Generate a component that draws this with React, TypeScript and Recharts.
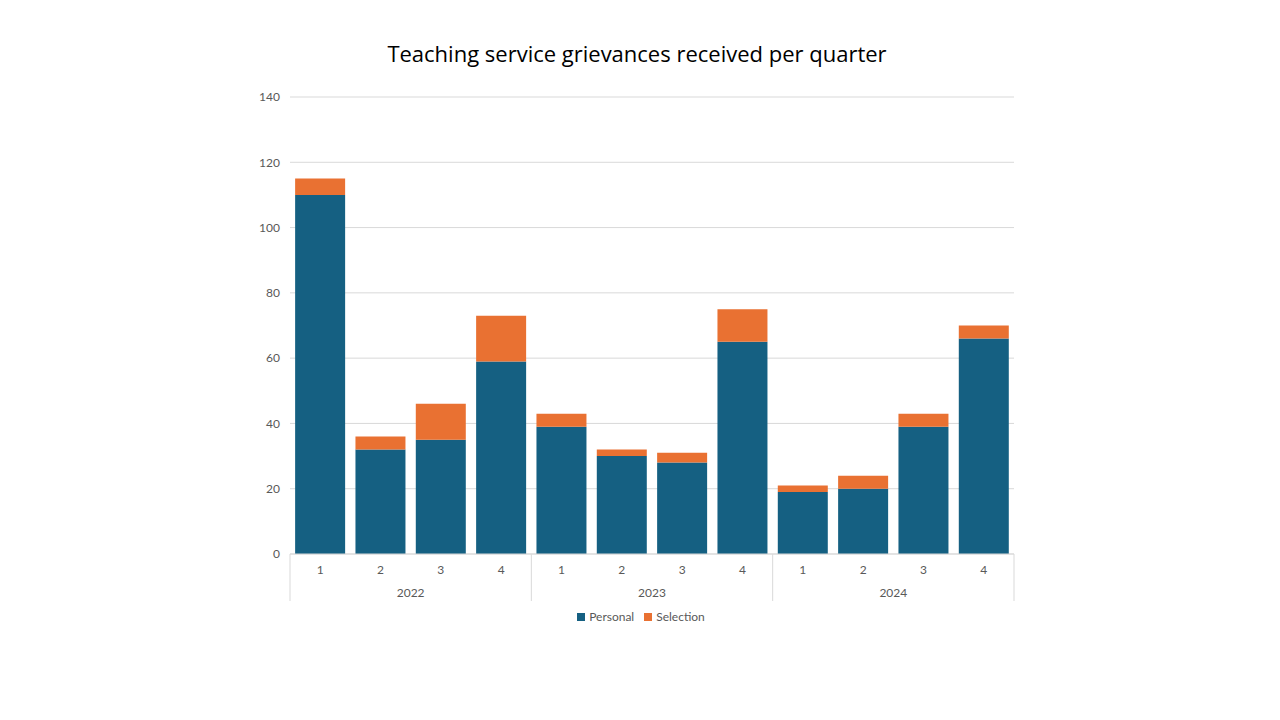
import React from 'react';
import { BarChart, Bar, XAxis, YAxis, CartesianGrid, Legend } from 'recharts';

const quarterLabels = ['1', '2', '3', '4', '1', '2', '3', '4', '1', '2', '3', '4'];
const yearLabels = ['2022', '2023', '2024'];
const personal = [110, 32, 35, 59, 39, 30, 28, 65, 19, 20, 39, 66];
const selection = [5, 4, 11, 14, 4, 2, 3, 10, 2, 4, 4, 4];
const yTicks = [0, 20, 40, 60, 80, 100, 120, 140];

const data = personal.map((p, i) => ({
  key: `${yearLabels[Math.floor(i / 4)]}-${quarterLabels[i]}`,
  quarter: quarterLabels[i],
  year: yearLabels[Math.floor(i / 4)],
  Personal: p,
  Selection: selection[i],
}));

const W = 1264;
const H = 704;
const MARGIN = { top: 89, right: 258, bottom: 83, left: 0 };
const Y_W = 282;
const FONT = 'Lato, "Open Sans", sans-serif';
const TITLE_FONT = '"Open Sans", Lato, sans-serif';
const TXT = '#595959';
const LINE = '#d9d9d9';

const QuarterTick = (props: any) => {
  const { x, y, payload } = props;
  const i: number = payload?.index ?? props.index ?? 0;
  const plotW = W - MARGIN.left - MARGIN.right - Y_W;
  const half: number = payload?.offset ? payload.offset : plotW / data.length / 2;
  const row = data[i];
  const isStart = i % 4 === 0;
  const isLast = i === data.length - 1;
  return (
    <g>
      <text x={x} y={y + 15} textAnchor="middle" dominantBaseline="central" fontSize={12} fill={TXT} fontFamily={FONT}>
        {row?.quarter}
      </text>
      {isStart && (
        <line x1={x - half} x2={x - half} y1={y} y2={y + 47} stroke={LINE} strokeWidth={1} />
      )}
      {isStart && (
        <text x={x - half + 4 * half} y={y + 38} textAnchor="middle" dominantBaseline="central" fontSize={12} fill={TXT} fontFamily={FONT}>
          {row?.year}
        </text>
      )}
      {isLast && (
        <line x1={x + half} x2={x + half} y1={y} y2={y + 47} stroke={LINE} strokeWidth={1} />
      )}
    </g>
  );
};

export default function App() {
  return (
    <div style={{ position: 'relative', width: W, height: H, fontFamily: FONT }}>
      <div
        style={{
          position: 'absolute',
          top: 29,
          left: 0,
          width: W,
          textAlign: 'center',
          fontSize: 22,
          color: '#000',
          fontFamily: TITLE_FONT,
          zIndex: 1,
          lineHeight: '32px',
          paddingRight: 6,
          boxSizing: 'border-box',
        }}
      >
        Teaching service grievances received per quarter
      </div>
      <BarChart width={W} height={H} data={data} margin={MARGIN} barCategoryGap="8.5%">
        <CartesianGrid vertical={false} stroke={LINE} />
        <XAxis
          dataKey="key"
          interval={0}
          tickLine={false}
          tickSize={0}
          tickMargin={0}
          axisLine={{ stroke: LINE }}
          height={56}
          tick={<QuarterTick />}
        />
        <YAxis
          width={Y_W}
          domain={[0, 140]}
          ticks={yTicks}
          axisLine={false}
          tickLine={false}
          tickMargin={4}
          tick={{ fontSize: 12, fill: TXT, fontFamily: FONT }}
        />
        <Legend
          verticalAlign="bottom"
          align="center"
          iconType="square"
          iconSize={8}
          wrapperStyle={{ left: 6, width: W, top: 597, bottom: 'auto' }}
          formatter={(value: string) => (
            <span style={{ color: TXT, fontSize: 12, fontFamily: FONT }}>{value}</span>
          )}
        />
        <Bar dataKey="Personal" stackId="a" fill="#156082" isAnimationActive={false} />
        <Bar dataKey="Selection" stackId="a" fill="#E97132" isAnimationActive={false} />
      </BarChart>
    </div>
  );
}
